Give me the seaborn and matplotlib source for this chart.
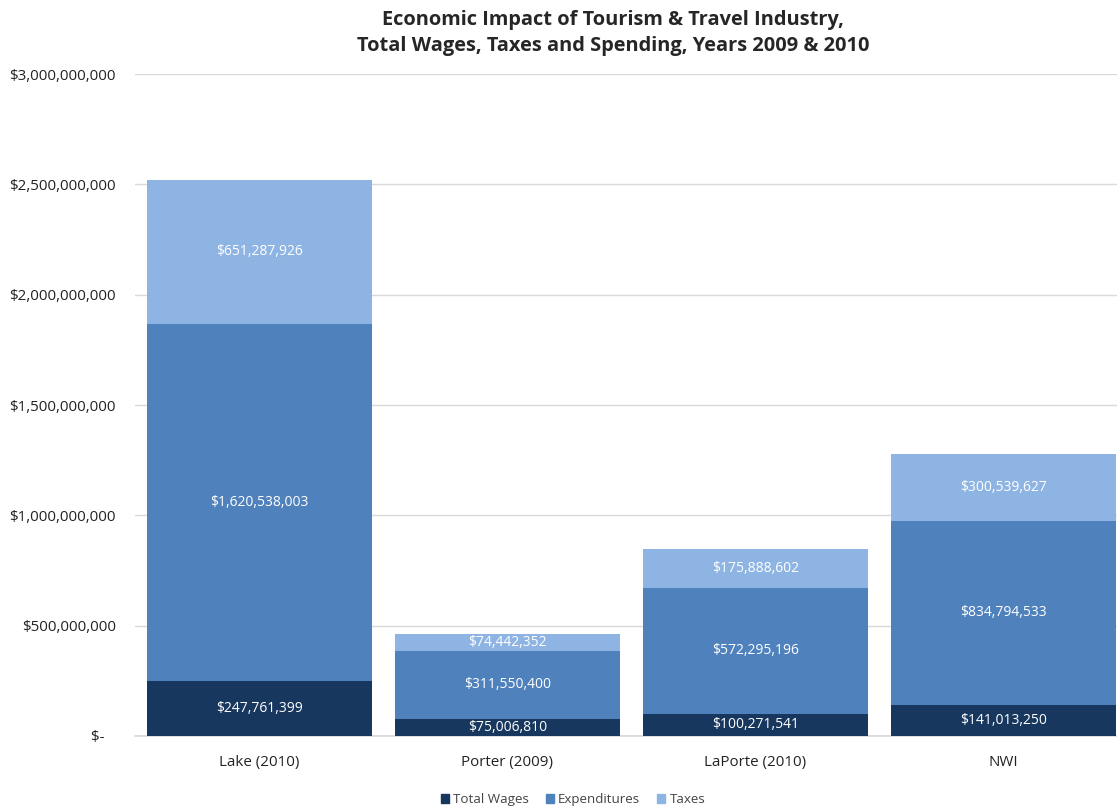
import numpy as np
import pandas as pd
import matplotlib
matplotlib.use("Agg")
import matplotlib.pyplot as plt
import seaborn as sns
from matplotlib.patches import Patch

# data
regions = ["Lake (2010)", "Porter (2009)", "LaPorte (2010)", "NWI"]
total_wages = [247761399, 75006810, 100271541, 141013250]
expenditures = [1620538003, 311550400, 572295196, 834794533]
taxes = [651287926, 74442352, 175888602, 300539627]
y_ticks = [0, 500000000, 1000000000, 1500000000, 2000000000, 2500000000, 3000000000]

col_wages = "#17375E"
col_exp = "#4F81BD"
col_tax = "#8EB4E3"

sns.set_theme(style="white")
plt.rcParams['font.family'] = ['Open Sans', 'DejaVu Sans']

df = pd.DataFrame({"region": regions, "wages": total_wages,
                   "exp": expenditures, "tax": taxes})
df["lvl2"] = df["wages"] + df["exp"]
df["lvl3"] = df["lvl2"] + df["tax"]

fig = plt.figure(figsize=(11.17, 8.06), dpi=100)
ax = fig.add_axes([0.1213, 0.087, 0.888, 0.821])

# stacked bars: draw totals first, then overlay smaller stacks
for col, c in [("lvl3", col_tax), ("lvl2", col_exp), ("wages", col_wages)]:
    sns.barplot(data=df, x="region", y=col, color=c, saturation=1,
                width=0.907, linewidth=0, ax=ax, zorder=3)

# value labels centered in each segment
for i, row in df.iterrows():
    for bottom, val in [(0, row["wages"]), (row["wages"], row["exp"]),
                        (row["lvl2"], row["tax"])]:
        ax.text(i, bottom + val / 2, "${:,.0f}".format(val), ha="center",
                va="center", color="white", fontsize=10, zorder=5)

ax.set_ylim(0, 3000000000)
ax.set_xlim(-0.5, 3.5)
ax.set_yticks(y_ticks)
ax.set_yticklabels(["$-   "] + ["${:,.0f}".format(v) for v in y_ticks[1:]])
ax.yaxis.grid(True, color="#D9D9D9", linewidth=1, zorder=0)
ax.set_axisbelow(True)
ax.tick_params(axis="both", length=0, labelsize=10.9, colors="#222222")
ax.tick_params(axis="y", pad=14)
ax.tick_params(axis="x", pad=14)
ax.set_xlabel("")
ax.set_ylabel("")
for s in ["top", "right", "left"]:
    ax.spines[s].set_visible(False)
ax.spines["bottom"].set_color("#D9D9D9")

fig.suptitle("Economic Impact of Tourism & Travel Industry,\nTotal Wages, Taxes and Spending, Years 2009 & 2010",
             fontsize=14.4, fontweight="bold", y=0.988, x=0.549, linespacing=1.45)

handles = [Patch(color=col_wages, label="Total Wages"),
           Patch(color=col_exp, label="Expenditures"),
           Patch(color=col_tax, label="Taxes")]
fig.legend(handles=handles, loc="lower center", ncol=3, frameon=False,
           bbox_to_anchor=(0.513, -0.015), fontsize=9.6, handlelength=0.6,
           handleheight=0.6, handletextpad=0.3, columnspacing=1.3,
           labelcolor="#444444")

fig.savefig("out.png", dpi=100)
